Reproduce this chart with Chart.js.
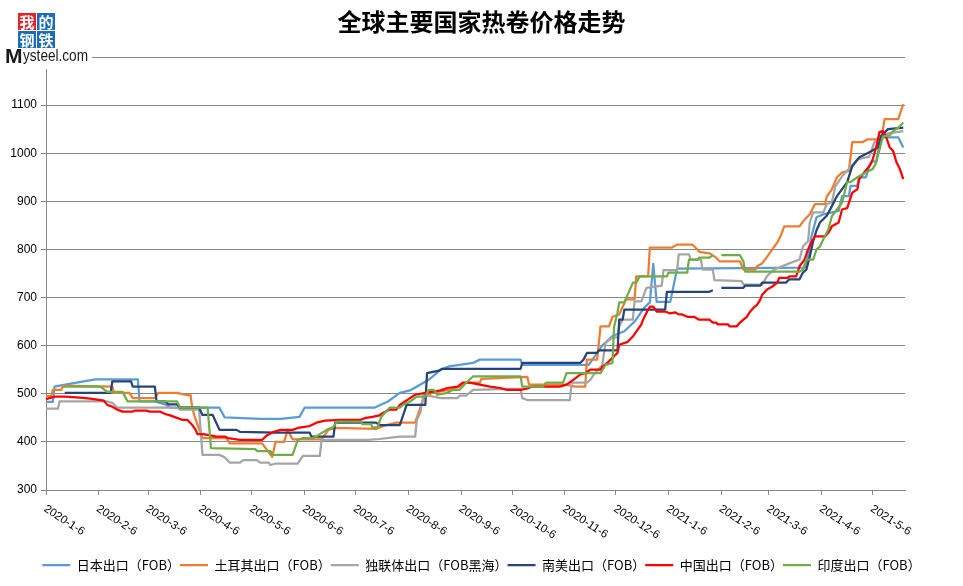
<!DOCTYPE html>
<html>
<head>
<meta charset="utf-8">
<script src="https://cdn.jsdelivr.net/npm/chart.js@4.4.1/dist/chart.umd.min.js"></script>
<style>
  html, body { margin: 0; padding: 0; background: #fff; }
</style>
</head>
<body>
<canvas id="drawChartPrices" width="963" height="586"></canvas>
<script>
// x values are days counted from startDate (2020-1-6)
const startDate = new Date(2020, 0, 6);
const lastDay = 505;

const tickLabels = ['2020-1-6', '2020-2-6', '2020-3-6', '2020-4-6', '2020-5-6', '2020-6-6', '2020-7-6', '2020-8-6',
  '2020-9-6', '2020-10-6', '2020-11-6', '2020-12-6', '2021-1-6', '2021-2-6', '2021-3-6', '2021-4-6', '2021-5-6'];

const seriesNames = ['日本出口（FOB）', '土耳其出口（FOB）', '独联体出口（FOB黑海）', '南美出口（FOB）', '中国出口（FOB）', '印度出口（FOB）'];
const seriesColors = ['#5B9BD5', '#ED7D31', '#A5A5A5', '#264478', '#FF0000', '#70AD47'];

// [day, price]
const japan = [[0,483],[4,483],[5,515],[8,517],[29,530],[54,530],[55,484],[64,484],[70,478],[73,471],[102,471],[105,451],
  [126,448],[138,448],[149,452],[152,471],[193,471],[201,484],[208,502],[214,507],[225,529],[232,550],[237,557],[251,564],
  [255,571],[279,571],[280,560],[319,560],[323,580],[327,600],[333,620],[340,630],[346,650],[352,680],[355,690],[357,770],
  [359,691],[367,691],[371,760],[446,762],[448,785],[450,827],[453,867],[457,873],[466,880],[468,911],[472,911],[473,932],
  [477,932],[478,950],[482,950],[484,973],[486,983],[488,983],[491,1033],[501,1033],[504,1012]];

const turkey = [[0,495],[3,495],[4,508],[9,508],[10,517],[39,515],[40,502],[49,502],[51,491],[64,491],[66,502],[77,502],
  [83,497],[85,497],[86,470],[88,446],[92,408],[106,408],[108,397],[127,397],[133,369],[135,400],[140,400],[142,425],
  [145,405],[162,405],[166,425],[170,429],[194,427],[200,435],[206,440],[217,440],[220,470],[222,491],[227,502],[237,508],
  [243,515],[247,523],[255,523],[256,531],[283,535],[284,519],[306,519],[311,515],[317,515],[318,571],[324,571],[326,640],
  [331,640],[333,660],[337,665],[341,696],[346,696],[347,744],[354,744],[355,804],[368,804],[371,810],[380,810],[383,800],
  [384,795],[390,792],[394,783],[396,775],[408,775],[410,758],[417,758],[418,765],[421,771],[424,785],[427,800],[430,815],
  [432,829],[434,848],[443,848],[445,858],[449,873],[452,894],[458,894],[459,910],[462,925],[465,950],[468,960],[472,963],
  [474,1023],[480,1023],[483,1029],[491,1029],[493,1071],[501,1071],[504,1102]];

const cis = [[0,469],[7,469],[8,484],[36,484],[39,481],[42,471],[77,471],[79,467],[90,467],[92,373],[102,373],[105,368],
  [108,357],[114,357],[116,362],[124,362],[126,357],[131,357],[132,352],[135,355],[148,355],[149,360],[151,371],[161,371],
  [162,404],[189,404],[196,406],[208,411],[217,411],[218,446],[220,460],[222,498],[232,491],[242,491],[243,496],[247,496],
  [251,508],[273,510],[279,510],[280,491],[283,487],[308,487],[309,523],[318,523],[320,529],[322,540],[327,560],[329,606],
  [333,617],[336,617],[337,640],[339,654],[345,654],[346,692],[350,692],[353,720],[362,725],[363,757],[371,757],[372,790],
  [378,790],[379,779],[385,779],[386,758],[392,758],[393,736],[409,734],[410,727],[421,727],[424,745],[428,758],[437,771],
  [443,779],[445,806],[448,817],[449,856],[451,877],[457,877],[459,894],[462,898],[464,931],[468,952],[477,987],[484,993],
  [487,1023],[490,1035],[496,1042],[504,1046]];

const southAmerica = [[11,502],[38,502],[39,526],[50,526],[51,515],[64,515],[65,484],[70,484],[72,478],[77,478],[79,471],
  [90,471],[92,456],[98,456],[102,425],[112,425],[114,421],[135,419],[155,419],[156,411],[169,411],[170,440],[194,440],
  [196,435],[208,435],[212,477],[223,477],[224,543],[231,548],[233,552],[279,552],[280,564],[314,564],[316,571],[318,585],
  [324,585],[325,590],[336,590],[337,654],[339,654],[340,675],[364,675],[365,712],[390,712],[392,715],[394,null],[397,720],
  [410,720],[411,725],[420,725],[421,731],[435,731],[437,738],[443,738],[445,752],[447,758],[449,785],[451,817],[453,840],
  [455,856],[459,870],[462,890],[465,911],[471,940],[474,973],[478,991],[484,1002],[489,1012],[491,1036],[495,1050],[504,1053]];

const china = [[0,489],[5,494],[11,494],[20,492],[26,490],[34,486],[36,477],[39,473],[42,467],[45,463],[51,463],[52,465],
  [59,465],[61,463],[67,463],[70,458],[73,455],[77,450],[80,446],[83,446],[86,435],[88,425],[89,416],[92,416],[96,414],
  [100,411],[105,411],[107,408],[114,404],[127,404],[130,414],[134,421],[138,425],[145,425],[148,429],[152,431],[155,433],
  [159,440],[164,444],[173,446],[185,446],[188,450],[192,452],[196,455],[198,460],[202,467],[206,467],[208,477],[211,484],
  [214,491],[217,498],[223,502],[232,507],[236,512],[242,515],[245,523],[249,523],[255,519],[261,515],[267,512],[271,508],
  [279,508],[283,511],[286,515],[302,515],[306,519],[310,529],[314,540],[317,543],[320,550],[326,550],[327,556],[330,564],
  [333,575],[336,585],[337,602],[342,608],[345,619],[347,629],[350,644],[351,654],[354,675],[355,681],[357,681],[359,671],
  [364,671],[367,667],[370,669],[372,665],[374,665],[377,660],[381,660],[384,654],[390,654],[392,648],[394,648],[395,644],
  [401,644],[402,640],[406,640],[408,648],[410,654],[412,660],[414,671],[416,679],[418,685],[420,696],[421,706],[424,717],
  [427,723],[430,731],[431,741],[436,741],[437,744],[441,744],[443,765],[446,779],[448,800],[450,815],[452,827],[458,827],
  [460,835],[462,848],[466,856],[468,883],[471,886],[474,918],[477,925],[478,946],[481,960],[484,973],[486,987],[488,1012],
  [490,1044],[492,1046],[494,1033],[496,1012],[498,1005],[500,981],[502,967],[504,946]];

const india = [[10,515],[32,515],[36,504],[45,504],[48,484],[77,484],[79,471],[95,471],[97,387],[123,385],[124,381],
  [132,381],[133,373],[145,373],[148,404],[151,408],[157,408],[160,414],[165,425],[169,431],[171,442],[185,442],[186,437],
  [191,437],[192,430],[195,430],[197,452],[202,471],[208,471],[210,477],[214,484],[218,494],[223,494],[225,508],[228,508],
  [230,498],[236,502],[239,508],[243,508],[247,523],[251,536],[279,536],[280,515],[292,515],[294,523],[304,523],[306,543],
  [326,543],[329,560],[333,564],[334,640],[336,669],[337,690],[340,690],[342,706],[345,731],[347,731],[349,744],[365,744],
  [366,752],[377,752],[378,779],[383,779],[384,783],[390,783],[392,788],[394,null],[397,788],[408,788],[410,775],[411,754],
  [443,754],[445,758],[447,779],[451,779],[453,800],[455,806],[457,821],[460,842],[462,869],[465,883],[468,897],[471,940],
  [473,940],[477,950],[482,960],[486,967],[488,980],[492,1035],[496,1037],[498,1046],[501,1053],[504,1064]];

const seriesData = [japan, turkey, cis, southAmerica, china, india];

const tickDays = tickLabels.map(label => {
  const [y, m, d] = label.split('-').map(Number);
  return Math.round((new Date(y, m - 1, d) - startDate) / 86400000);
});

// rotated date labels under the x axis
const xLabelsPlugin = {
  id: 'xLabels',
  afterDraw(chart) {
    const { ctx, scales: { x } } = chart;
    ctx.save();
    ctx.fillStyle = '#000';
    ctx.font = "11.5px 'Liberation Sans'";
    ctx.textAlign = 'left';
    ctx.textBaseline = 'top';
    tickLabels.forEach((label, i) => {
      ctx.save();
      ctx.translate(x.getPixelForValue(tickDays[i]) + 2, x.top + 13);
      ctx.rotate(33 * Math.PI / 180);
      ctx.fillText(label, 0, 0);
      ctx.restore();
    });
    ctx.restore();
  }
};

// Mysteel logo in the top left corner
const logoPlugin = {
  id: 'logo',
  afterDraw(chart) {
    const ctx = chart.ctx;
    ctx.save();
    ctx.fillStyle = '#fff';
    ctx.fillRect(0, 0, 92, 69);
    const cells = [['我', 18, 13, '#E5232A'], ['的', 37, 13, '#1B6DB8'], ['钢', 18, 31, '#1B6DB8'], ['铁', 37, 31, '#1B6DB8']];
    ctx.textAlign = 'center';
    ctx.textBaseline = 'middle';
    ctx.font = "bold 15px 'Noto Sans CJK SC'";
    cells.forEach(([ch, cx, cy, bg]) => {
      ctx.fillStyle = bg;
      ctx.fillRect(cx, cy, 18, 17);
      ctx.fillStyle = '#fff';
      ctx.fillText(ch, cx + 9, cy + 9);
    });
    ctx.fillStyle = '#1a1a1a';
    ctx.textAlign = 'left';
    ctx.textBaseline = 'alphabetic';
    ctx.font = "bold 21px 'Liberation Sans'";
    ctx.fillText('M', 5, 63);
    ctx.font = "16px 'Liberation Sans'";
    const w = ctx.measureText('ysteel.com').width;
    ctx.translate(23, 61);
    ctx.scale(65 / w, 1);
    ctx.fillText('ysteel.com', 0, 0);
    ctx.restore();
  }
};

new Chart(document.getElementById('drawChartPrices'), {
  type: 'line',
  data: {
    datasets: seriesData.map((series, i) => ({
      label: seriesNames[i],
      data: series.map(([day, price]) => ({ x: day, y: price })),
      borderColor: seriesColors[i],
      backgroundColor: seriesColors[i],
      borderWidth: 2.25,
      pointRadius: 0,
      tension: 0,
      fill: false,
      spanGaps: false,
      borderJoinStyle: 'round',
      order: seriesData.length - i
    }))
  },
  options: {
    responsive: false,
    animation: false,
    layout: { padding: { top: 0, right: 0, bottom: 4.5, left: 0 } },
    plugins: {
      title: {
        display: true,
        text: '全球主要国家热卷价格走势',
        color: '#000',
        font: { family: "'Noto Sans CJK SC'", size: 24, weight: 'bold' },
        padding: { top: 7, bottom: 21.2 }
      },
      legend: {
        position: 'bottom',
        labels: {
          usePointStyle: true,
          pointStyle: 'line',
          pointStyleWidth: 28,
          padding: 0,
          color: '#000',
          font: { family: "'Noto Sans CJK SC'", size: 13 },
          sort: (a, b) => a.datasetIndex - b.datasetIndex
        }
      },
      tooltip: { enabled: false }
    },
    scales: {
      x: {
        type: 'linear',
        min: 0,
        max: lastDay,
        afterBuildTicks: (axis) => { axis.ticks = tickDays.map(value => ({ value })); },
        afterFit: (axis) => { axis.height = 68.5; },
        ticks: { display: false },
        grid: { drawOnChartArea: false, drawTicks: true, tickLength: 5, color: '#878787' },
        border: { color: '#878787' }
      },
      y: {
        min: 300,
        max: 1200,
        afterFit: (axis) => { axis.width = 46; },
        ticks: {
          stepSize: 100,
          padding: 4,
          color: '#000',
          font: { family: "'Liberation Sans'", size: 12 },
          callback: (value) => value === 1200 ? '' : value
        },
        grid: { color: '#878787', tickLength: 5 },
        border: { color: '#878787' }
      },
      // empty right-hand margin, so the legend keeps the full canvas width
      yRight: {
        position: 'right',
        afterFit: (axis) => { axis.width = 58; },
        ticks: { display: false },
        grid: { display: false },
        border: { display: false }
      }
    }
  },
  plugins: [xLabelsPlugin, logoPlugin]
});
</script>
</body>
</html>
